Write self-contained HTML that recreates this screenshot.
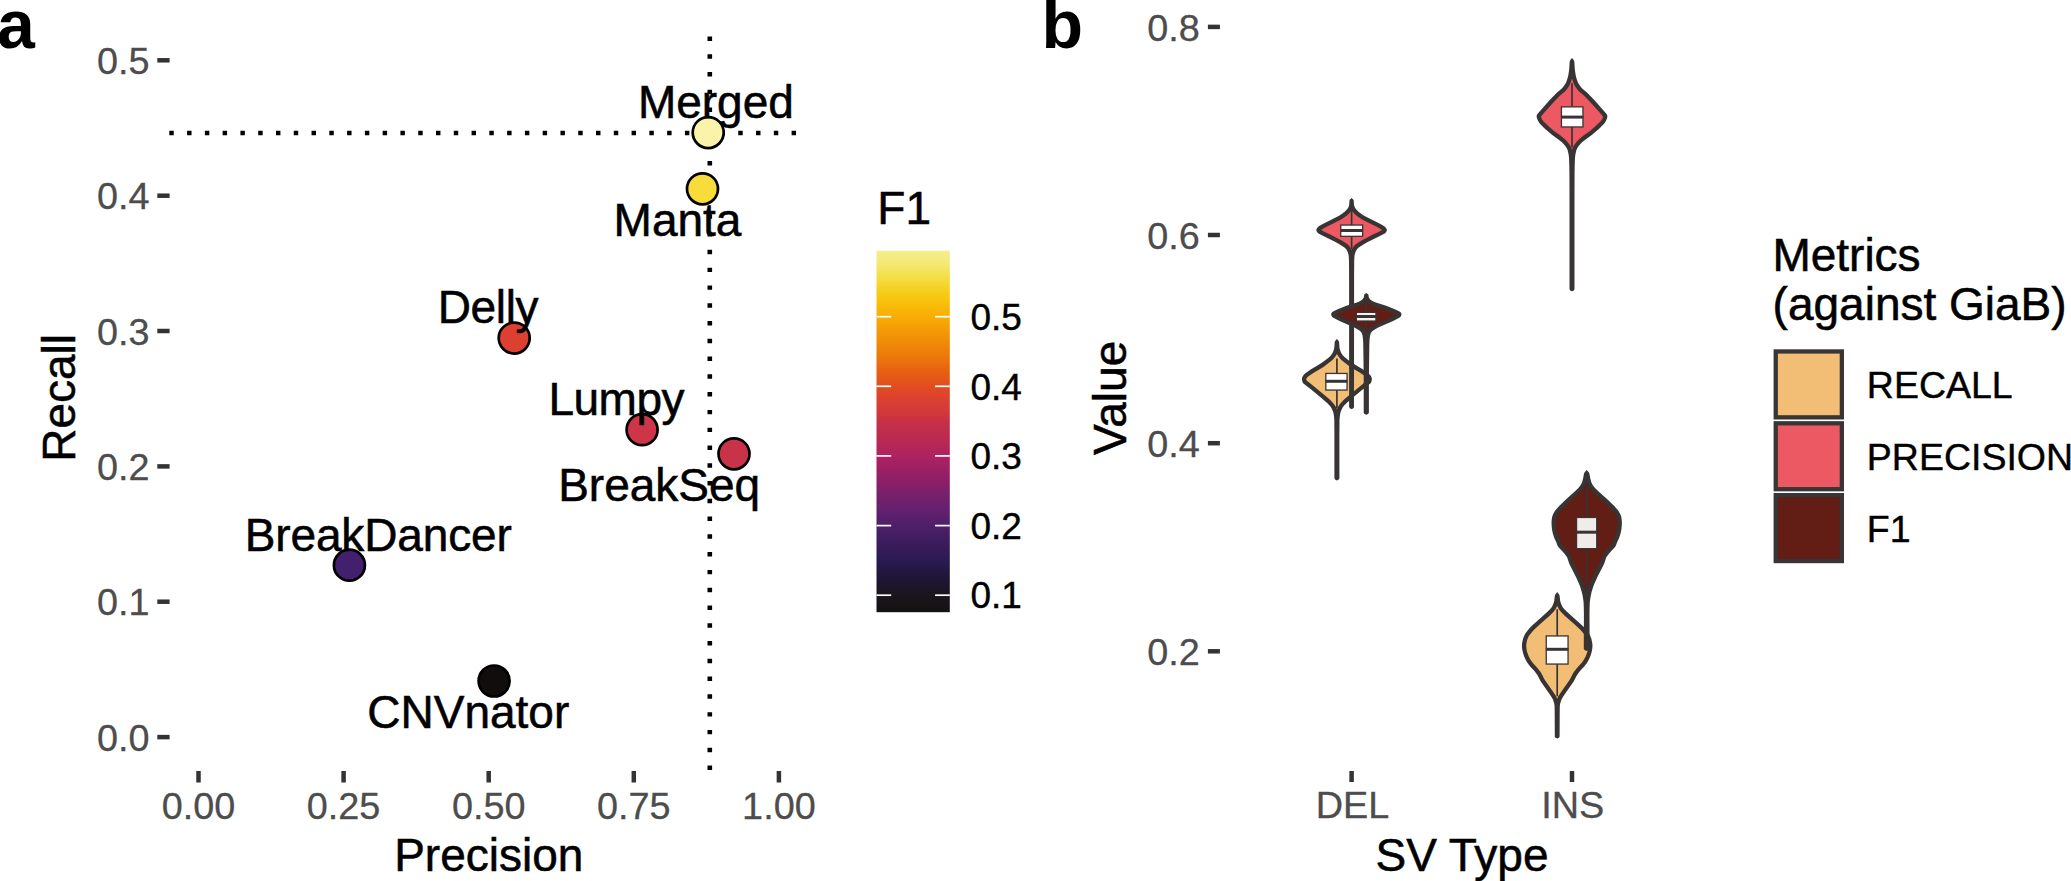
<!DOCTYPE html>
<html lang="en"><head><meta charset="utf-8"><title>Figure</title>
<style>
html,body{margin:0;padding:0;background:#fff;}
body{width:2071px;height:881px;overflow:hidden;}
svg{display:block;font-family:"Liberation Sans", sans-serif;}
.tk{font-size:37.8px;fill:#4d4d4d;stroke:#4d4d4d;stroke-width:0.3px;}
.tt{font-size:46px;fill:#000;stroke:#000;stroke-width:0.55px;}
.lb{font-size:46px;fill:#000;stroke:#000;stroke-width:0.55px;}
.lg{font-size:37.5px;fill:#000;stroke:#000;stroke-width:0.4px;}
.pl{font-size:68px;font-weight:bold;fill:#000;}
</style></head><body>
<svg width="2071" height="881" viewBox="0 0 2071 881">
<rect width="2071" height="881" fill="#ffffff"/>
<g id="panel-a">
<text class="pl" x="-3" y="48.2">a</text>
<line x1="157.3" x2="169.6" y1="737.1" y2="737.1" stroke="#333333" stroke-width="4.5"/>
<text class="tk" x="149.5" y="750.7" text-anchor="end">0.0</text>
<line x1="157.3" x2="169.6" y1="601.7" y2="601.7" stroke="#333333" stroke-width="4.5"/>
<text class="tk" x="149.5" y="615.3" text-anchor="end">0.1</text>
<line x1="157.3" x2="169.6" y1="466.4" y2="466.4" stroke="#333333" stroke-width="4.5"/>
<text class="tk" x="149.5" y="480.0" text-anchor="end">0.2</text>
<line x1="157.3" x2="169.6" y1="331.0" y2="331.0" stroke="#333333" stroke-width="4.5"/>
<text class="tk" x="149.5" y="344.6" text-anchor="end">0.3</text>
<line x1="157.3" x2="169.6" y1="195.7" y2="195.7" stroke="#333333" stroke-width="4.5"/>
<text class="tk" x="149.5" y="209.3" text-anchor="end">0.4</text>
<line x1="157.3" x2="169.6" y1="60.3" y2="60.3" stroke="#333333" stroke-width="4.5"/>
<text class="tk" x="149.5" y="73.9" text-anchor="end">0.5</text>
<line x1="198.5" x2="198.5" y1="771" y2="782.5" stroke="#333333" stroke-width="4.5"/>
<text class="tk" x="198.5" y="818.6" text-anchor="middle">0.00</text>
<line x1="343.6" x2="343.6" y1="771" y2="782.5" stroke="#333333" stroke-width="4.5"/>
<text class="tk" x="343.6" y="818.6" text-anchor="middle">0.25</text>
<line x1="488.7" x2="488.7" y1="771" y2="782.5" stroke="#333333" stroke-width="4.5"/>
<text class="tk" x="488.7" y="818.6" text-anchor="middle">0.50</text>
<line x1="633.8" x2="633.8" y1="771" y2="782.5" stroke="#333333" stroke-width="4.5"/>
<text class="tk" x="633.8" y="818.6" text-anchor="middle">0.75</text>
<line x1="778.9" x2="778.9" y1="771" y2="782.5" stroke="#333333" stroke-width="4.5"/>
<text class="tk" x="778.9" y="818.6" text-anchor="middle">1.00</text>
<text class="tt" x="394.2" y="871">Precision</text>
<text class="tt" transform="translate(75.2,461.8) rotate(-90)">Recall</text>
<line x1="169.3" x2="797" y1="133" y2="133" stroke="#000" stroke-width="4.6" stroke-dasharray="4.45 13.33"/>
<line x1="709.8" x2="709.8" y1="36.5" y2="771" stroke="#000" stroke-width="4.6" stroke-dasharray="4.45 13.33"/>
<circle cx="708.2" cy="132.6" r="15.5" fill="#fcf3ab" stroke="#000" stroke-width="2.7"/>
<circle cx="702.5" cy="188.8" r="15.5" fill="#f8dc3c" stroke="#000" stroke-width="2.7"/>
<circle cx="514.2" cy="338.1" r="15.5" fill="#dd4030" stroke="#000" stroke-width="2.7"/>
<circle cx="642.1" cy="429.7" r="15.5" fill="#cf3548" stroke="#000" stroke-width="2.7"/>
<circle cx="734" cy="453.8" r="15.5" fill="#c8334a" stroke="#000" stroke-width="2.7"/>
<circle cx="349.4" cy="565.2" r="15.5" fill="#43206e" stroke="#000" stroke-width="2.7"/>
<circle cx="494.1" cy="681" r="15.5" fill="#110d0c" stroke="#000" stroke-width="2.7"/>
<text class="lb" x="637.9" y="117.5">Merged</text>
<text class="lb" x="613.6" y="236.3">Manta</text>
<text class="lb" style="letter-spacing:-0.35px" x="437.7" y="322.5">Delly</text>
<text class="lb" style="letter-spacing:-0.5px" x="548.4" y="414.7">Lumpy</text>
<text class="lb" x="558.2" y="501.2">BreakSeq</text>
<text class="lb" style="letter-spacing:-0.15px" x="244.8" y="550.5">BreakDancer</text>
<text class="lb" x="367.3" y="728.4">CNVnator</text>
<defs><linearGradient id="inf" x1="0" y1="0" x2="0" y2="1">
<stop offset="0.0000" stop-color="#f4ee8c"/>
<stop offset="0.0202" stop-color="#f4ec80"/>
<stop offset="0.0407" stop-color="#f3e86e"/>
<stop offset="0.0689" stop-color="#f4e04a"/>
<stop offset="0.0974" stop-color="#f5d42a"/>
<stop offset="0.1256" stop-color="#f6c812"/>
<stop offset="0.1538" stop-color="#f8bc08"/>
<stop offset="0.1820" stop-color="#f9ad05"/>
<stop offset="0.2055" stop-color="#f6a105"/>
<stop offset="0.2479" stop-color="#f08e07"/>
<stop offset="0.2902" stop-color="#ec7a09"/>
<stop offset="0.3328" stop-color="#e76210"/>
<stop offset="0.3746" stop-color="#e34c20"/>
<stop offset="0.4174" stop-color="#da3f33"/>
<stop offset="0.4462" stop-color="#d3383b"/>
<stop offset="0.4752" stop-color="#c62f47"/>
<stop offset="0.5270" stop-color="#b82953"/>
<stop offset="0.5668" stop-color="#ae2260"/>
<stop offset="0.6133" stop-color="#991f66"/>
<stop offset="0.6650" stop-color="#7c206a"/>
<stop offset="0.7170" stop-color="#64206e"/>
<stop offset="0.7604" stop-color="#4e1f68"/>
<stop offset="0.8036" stop-color="#3f1c5e"/>
<stop offset="0.8553" stop-color="#2b1a52"/>
<stop offset="0.8899" stop-color="#221640"/>
<stop offset="0.9245" stop-color="#1d152a"/>
<stop offset="0.9521" stop-color="#1a151e"/>
<stop offset="0.9746" stop-color="#171316"/>
<stop offset="1.0000" stop-color="#151212"/>
</linearGradient></defs>
<rect x="876.5" y="250.7" width="73.3" height="361.5" fill="url(#inf)"/>
<line x1="876.5" x2="891.2" y1="595.2" y2="595.2" stroke="#fff" stroke-width="1.7"/>
<line x1="935.1" x2="949.8" y1="595.2" y2="595.2" stroke="#fff" stroke-width="1.7"/>
<text class="lg" style="font-size:37px" x="970.5" y="608.4">0.1</text>
<line x1="876.5" x2="891.2" y1="525.6" y2="525.6" stroke="#fff" stroke-width="1.7"/>
<line x1="935.1" x2="949.8" y1="525.6" y2="525.6" stroke="#fff" stroke-width="1.7"/>
<text class="lg" style="font-size:37px" x="970.5" y="538.8">0.2</text>
<line x1="876.5" x2="891.2" y1="455.9" y2="455.9" stroke="#fff" stroke-width="1.7"/>
<line x1="935.1" x2="949.8" y1="455.9" y2="455.9" stroke="#fff" stroke-width="1.7"/>
<text class="lg" style="font-size:37px" x="970.5" y="469.1">0.3</text>
<line x1="876.5" x2="891.2" y1="386.3" y2="386.3" stroke="#fff" stroke-width="1.7"/>
<line x1="935.1" x2="949.8" y1="386.3" y2="386.3" stroke="#fff" stroke-width="1.7"/>
<text class="lg" style="font-size:37px" x="970.5" y="399.5">0.4</text>
<line x1="876.5" x2="891.2" y1="316.7" y2="316.7" stroke="#fff" stroke-width="1.7"/>
<line x1="935.1" x2="949.8" y1="316.7" y2="316.7" stroke="#fff" stroke-width="1.7"/>
<text class="lg" style="font-size:37px" x="970.5" y="329.9">0.5</text>
<text class="tt" x="877.3" y="223.8">F1</text>
</g>
<g id="panel-b">
<text class="pl" x="1041.4" y="48.2">b</text>
<line x1="1207.9" x2="1219.9" y1="651.3" y2="651.3" stroke="#333333" stroke-width="4.5"/>
<text class="tk" x="1199.7" y="664.9" text-anchor="end">0.2</text>
<line x1="1207.9" x2="1219.9" y1="443.2" y2="443.2" stroke="#333333" stroke-width="4.5"/>
<text class="tk" x="1199.7" y="456.8" text-anchor="end">0.4</text>
<line x1="1207.9" x2="1219.9" y1="235.0" y2="235.0" stroke="#333333" stroke-width="4.5"/>
<text class="tk" x="1199.7" y="248.6" text-anchor="end">0.6</text>
<line x1="1207.9" x2="1219.9" y1="26.9" y2="26.9" stroke="#333333" stroke-width="4.5"/>
<text class="tk" x="1199.7" y="40.5" text-anchor="end">0.8</text>
<line x1="1351.6" x2="1351.6" y1="771" y2="782" stroke="#333333" stroke-width="4.5"/>
<text class="tk" x="1352.3999999999999" y="818.4" text-anchor="middle">DEL</text>
<line x1="1572" x2="1572" y1="771" y2="782" stroke="#333333" stroke-width="4.5"/>
<text class="tk" x="1572.8" y="818.4" text-anchor="middle">INS</text>
<text class="tt" x="1462" y="871" text-anchor="middle">SV Type</text>
<text class="tt" transform="translate(1126.3,455) rotate(-90)">Value</text>
<path d="M1336.9,338.9L1335.3,340.7L1335.0,341.3L1334.7,341.9L1334.3,347.7L1334.0,349.3L1333.3,351.3L1332.4,353.3L1330.6,355.7L1328.5,357.7L1324.9,360.5L1322.2,362.5L1319.8,364.1L1314.9,366.9L1311.0,369.3L1305.3,373.3L1304.0,374.5L1302.9,376.1L1302.1,377.7L1301.9,378.9L1302.0,380.1L1302.3,381.3L1302.7,382.5L1303.2,383.3L1304.1,384.1L1306.3,385.7L1311.8,390.1L1321.1,397.7L1327.1,402.9L1329.4,405.3L1331.0,407.3L1331.9,408.9L1333.1,411.7L1333.5,413.3L1333.9,415.7L1334.2,418.9L1334.3,421.7L1334.4,436.5L1334.4,478.1L1334.6,478.8L1335.1,479.6L1335.9,480.0L1336.9,480.4L1337.9,480.0L1338.7,479.6L1339.2,478.8L1339.4,478.1L1339.4,436.5L1339.5,421.7L1339.6,418.9L1339.9,415.7L1340.3,413.3L1340.7,411.7L1341.9,408.9L1342.8,407.3L1344.4,405.3L1346.7,402.9L1352.7,397.7L1362.0,390.1L1367.5,385.7L1369.7,384.1L1370.6,383.3L1371.1,382.5L1371.5,381.3L1371.8,380.1L1371.9,378.9L1371.7,377.7L1370.9,376.1L1369.8,374.5L1368.5,373.3L1362.8,369.3L1358.9,366.9L1354.0,364.1L1351.6,362.5L1348.9,360.5L1345.3,357.7L1343.2,355.7L1341.4,353.3L1340.5,351.3L1339.8,349.3L1339.5,347.7L1339.1,341.9L1338.8,341.3L1338.5,340.7Z" fill="#383434"/>
<path d="M1306.2,379.1L1306.6,380.5L1309.5,382.7L1323.8,394.4L1328.6,398.5L1330.5,400.2L1333.0,402.9L1334.6,404.9L1335.6,406.6L1336.9,409.5L1338.2,406.6L1339.2,404.9L1340.8,402.9L1343.3,400.2L1345.2,398.5L1350.0,394.4L1364.3,382.7L1367.2,380.5L1367.6,379.1L1366.5,377.3L1364.9,376.0L1361.6,373.7L1359.2,372.2L1350.3,366.9L1346.8,364.3L1342.6,361.0L1340.9,359.6L1339.6,358.0L1338.1,356.0L1336.9,353.9L1335.7,356.0L1334.2,358.0L1332.9,359.6L1331.2,361.0L1327.0,364.3L1323.5,366.9L1314.6,372.2L1312.2,373.7L1308.9,376.0L1307.3,377.3Z" fill="#f2bd74"/>
<path d="M1557.2,592.1L1555.7,593.9L1555.0,595.1L1554.7,596.5L1554.3,600.5L1553.8,602.5L1552.7,605.3L1552.1,606.5L1551.3,607.7L1550.0,609.3L1547.2,612.1L1537.2,620.9L1531.6,626.1L1529.7,628.1L1528.0,630.1L1526.7,631.7L1525.5,633.3L1524.8,634.5L1523.9,636.5L1522.9,639.3L1522.1,643.3L1521.9,646.1L1522.2,649.3L1522.7,651.7L1523.1,653.3L1523.7,655.3L1524.7,657.7L1525.4,659.3L1526.3,660.9L1527.5,662.9L1529.2,665.3L1530.6,666.9L1534.0,670.5L1537.0,674.5L1538.2,676.5L1540.2,680.5L1541.1,682.1L1549.5,694.1L1552.1,698.1L1553.1,700.1L1553.9,702.5L1554.3,704.1L1554.5,705.3L1554.6,707.3L1554.7,714.1L1554.8,736.3L1554.9,736.9L1555.5,737.7L1556.2,738.1L1557.2,738.5L1558.2,738.1L1558.9,737.7L1559.5,736.9L1559.6,736.3L1559.7,714.1L1559.8,707.3L1559.9,705.3L1560.1,704.1L1560.5,702.5L1561.3,700.1L1562.3,698.1L1564.9,694.1L1573.3,682.1L1574.2,680.5L1576.2,676.5L1577.4,674.5L1580.4,670.5L1583.8,666.9L1585.2,665.3L1586.9,662.9L1588.1,660.9L1589.0,659.3L1589.7,657.7L1590.7,655.3L1591.3,653.3L1591.7,651.7L1592.2,649.3L1592.5,646.1L1592.3,643.3L1591.5,639.3L1590.5,636.5L1589.6,634.5L1588.9,633.3L1587.7,631.7L1586.4,630.1L1584.7,628.1L1582.8,626.1L1577.2,620.9L1567.2,612.1L1564.4,609.3L1563.1,607.7L1562.3,606.5L1561.7,605.3L1560.6,602.5L1560.1,600.5L1559.7,596.5L1559.4,595.1L1558.7,593.9Z" fill="#383434"/>
<path d="M1557.2,605.8L1556.4,607.6L1555.5,609.3L1554.4,610.8L1553.1,612.3L1549.7,615.7L1540.5,623.7L1535.9,628.0L1532.9,631.0L1530.0,634.4L1528.8,636.1L1527.8,638.2L1527.2,639.8L1526.9,641.0L1526.5,643.2L1526.2,644.9L1526.2,646.0L1526.5,649.0L1526.9,651.2L1527.3,652.4L1528.8,656.4L1530.0,658.7L1531.4,660.9L1532.9,663.0L1537.2,667.7L1540.6,672.1L1542.0,674.5L1544.0,678.5L1544.7,679.8L1553.1,691.7L1556.1,696.3L1557.2,698.7L1558.3,696.3L1561.3,691.7L1569.7,679.8L1570.4,678.5L1572.4,674.5L1573.8,672.1L1577.2,667.7L1581.5,663.0L1583.0,660.9L1584.4,658.7L1585.6,656.4L1587.1,652.4L1587.5,651.2L1587.9,649.0L1588.2,646.0L1588.2,644.9L1587.9,643.2L1587.5,641.0L1587.2,639.8L1586.6,638.2L1585.6,636.1L1584.4,634.4L1581.5,631.0L1578.5,628.0L1573.9,623.7L1564.7,615.7L1561.3,612.3L1560.0,610.8L1558.9,609.3L1558.0,607.6Z" fill="#f2bd74"/>
<path d="M1351.6,198.1L1350.0,199.5L1349.5,200.2L1349.2,204.9L1348.9,206.1L1348.2,207.7L1347.7,208.5L1347.1,209.3L1344.7,211.7L1341.7,214.1L1339.1,215.7L1332.2,219.3L1323.2,223.7L1319.7,225.7L1318.6,226.5L1317.7,227.3L1316.6,228.9L1316.3,229.7L1316.3,230.1L1316.5,230.9L1317.4,232.5L1317.8,232.9L1318.9,233.7L1323.3,236.1L1328.4,238.5L1335.5,242.1L1339.8,244.5L1343.7,246.9L1344.8,247.7L1346.0,248.9L1347.0,250.5L1347.9,252.5L1348.6,254.9L1348.8,256.9L1349.0,261.3L1349.1,276.9L1349.1,406.7L1349.3,407.5L1349.9,408.3L1350.6,408.7L1351.6,409.1L1352.6,408.7L1353.3,408.3L1353.9,407.5L1354.0,406.7L1354.1,276.9L1354.2,261.3L1354.4,256.9L1354.6,254.9L1355.3,252.5L1356.2,250.5L1357.2,248.9L1358.4,247.7L1359.5,246.9L1363.4,244.5L1367.7,242.1L1374.8,238.5L1379.9,236.1L1384.3,233.7L1385.4,232.9L1385.8,232.5L1386.7,230.9L1386.9,230.1L1386.9,229.7L1386.6,228.9L1385.5,227.3L1384.6,226.5L1383.5,225.7L1380.0,223.7L1371.0,219.3L1364.1,215.7L1361.5,214.1L1358.5,211.7L1356.1,209.3L1355.5,208.5L1355.0,207.7L1354.3,206.1L1354.0,204.9L1353.7,200.2L1353.2,199.5Z" fill="#383434"/>
<path d="M1321.1,229.9L1325.2,232.2L1330.3,234.6L1336.8,237.9L1341.3,240.3L1346.0,243.3L1348.1,244.8L1349.3,246.1L1350.5,247.9L1351.6,250.1L1352.7,247.9L1353.9,246.1L1355.1,244.8L1357.2,243.3L1361.9,240.3L1366.4,237.9L1372.9,234.6L1378.0,232.2L1382.1,229.9L1380.6,228.9L1378.1,227.5L1367.5,222.3L1362.1,219.4L1359.8,218.1L1357.3,216.3L1355.1,214.4L1352.9,212.1L1351.6,210.4L1350.3,212.1L1348.1,214.4L1345.9,216.3L1343.4,218.1L1341.1,219.4L1335.7,222.3L1325.1,227.5L1322.6,228.9Z" fill="#ec5962"/>
<path d="M1572.0,58.1L1570.3,60.1L1570.0,60.7L1569.7,61.3L1569.2,69.3L1568.8,72.1L1568.3,75.3L1567.7,77.7L1567.0,80.1L1566.1,82.5L1565.2,84.1L1563.9,86.1L1562.3,88.1L1561.0,89.3L1557.6,92.1L1556.3,93.3L1552.6,96.9L1549.3,100.5L1537.6,113.7L1536.9,114.9L1536.6,115.7L1536.6,116.1L1536.8,117.7L1537.5,119.7L1538.7,122.1L1539.9,123.7L1545.1,128.9L1548.7,132.1L1551.6,134.5L1557.7,138.9L1561.7,142.1L1563.4,143.7L1565.7,146.5L1566.9,148.5L1567.6,150.1L1568.3,152.9L1568.8,155.7L1569.0,158.1L1569.3,164.9L1569.4,172.1L1569.5,196.9L1569.5,288.9L1569.7,289.7L1570.3,290.5L1571.0,290.9L1572.0,291.3L1573.0,290.9L1573.7,290.5L1574.3,289.7L1574.5,288.9L1574.5,196.9L1574.6,172.1L1574.7,164.9L1575.0,158.1L1575.2,155.7L1575.7,152.9L1576.4,150.1L1577.1,148.5L1578.3,146.5L1580.6,143.7L1582.3,142.1L1586.3,138.9L1592.4,134.5L1595.3,132.1L1598.9,128.9L1604.1,123.7L1605.3,122.1L1606.5,119.7L1607.2,117.7L1607.4,116.1L1607.4,115.7L1607.1,114.9L1606.4,113.7L1594.7,100.5L1591.4,96.9L1587.7,93.3L1586.4,92.1L1583.0,89.3L1581.7,88.1L1580.1,86.1L1578.8,84.1L1577.9,82.5L1577.0,80.1L1576.3,77.7L1575.7,75.3L1575.2,72.1L1574.8,69.3L1574.3,61.3L1574.0,60.7L1573.7,60.1Z" fill="#383434"/>
<path d="M1541.0,116.5L1541.6,118.4L1542.3,119.7L1542.6,120.3L1544.1,121.9L1548.1,125.8L1550.6,128.1L1553.7,130.7L1559.8,135.1L1563.5,138.0L1565.5,139.7L1566.9,141.2L1569.1,143.9L1570.4,145.9L1571.3,147.8L1572.0,149.9L1572.7,147.8L1573.6,145.9L1574.9,143.9L1577.1,141.2L1578.5,139.7L1580.5,138.0L1584.2,135.1L1590.3,130.7L1593.4,128.1L1595.9,125.8L1599.9,121.9L1601.4,120.3L1601.7,119.7L1602.4,118.4L1603.0,116.5L1600.9,114.1L1598.3,111.0L1589.0,100.7L1584.4,96.0L1579.7,92.1L1577.7,90.1L1575.7,87.3L1574.2,84.7L1573.1,81.9L1572.0,78.4L1570.9,81.9L1569.8,84.7L1568.3,87.3L1566.3,90.1L1564.3,92.1L1559.6,96.0L1555.0,100.7L1545.7,111.0L1543.1,114.1Z" fill="#ec5962"/>
<path d="M1366.3,292.9L1365.2,293.7L1364.4,294.5L1364.1,295.1L1363.9,296.9L1363.6,297.7L1363.1,298.5L1362.1,299.7L1361.0,300.5L1358.8,301.7L1356.8,302.5L1346.4,305.7L1343.3,306.9L1336.6,309.7L1333.6,311.3L1332.4,312.1L1331.9,312.5L1331.6,312.9L1331.2,313.7L1331.1,314.5L1331.5,315.7L1332.2,316.9L1332.6,317.3L1333.8,318.1L1339.5,320.9L1353.9,327.3L1357.0,328.9L1359.4,330.5L1360.8,331.7L1361.4,332.5L1362.1,334.1L1362.6,336.1L1363.0,339.3L1363.2,342.5L1363.3,347.7L1363.7,376.1L1363.7,412.3L1363.9,413.1L1364.4,413.9L1365.2,414.3L1366.3,414.7L1367.4,414.3L1368.2,413.9L1368.7,413.1L1368.9,412.3L1368.9,376.1L1369.3,347.7L1369.4,342.5L1369.6,339.3L1370.0,336.1L1370.5,334.1L1371.2,332.5L1371.8,331.7L1373.2,330.5L1375.6,328.9L1378.7,327.3L1393.1,320.9L1398.8,318.1L1400.0,317.3L1400.4,316.9L1401.1,315.7L1401.5,314.5L1401.4,313.7L1401.0,312.9L1400.7,312.5L1400.2,312.1L1399.0,311.3L1396.0,309.7L1389.3,306.9L1386.2,305.7L1375.8,302.5L1373.8,301.7L1371.6,300.5L1370.5,299.7L1369.5,298.5L1369.0,297.7L1368.7,296.9L1368.5,295.1L1368.2,294.5L1367.4,293.7Z" fill="#383434"/>
<path d="M1336.4,314.6L1341.3,317.0L1355.7,323.4L1359.3,325.3L1362.5,327.4L1364.0,328.8L1364.8,329.7L1365.3,330.7L1366.3,333.1L1367.3,330.7L1367.8,329.7L1368.6,328.8L1370.1,327.4L1373.3,325.3L1376.9,323.4L1391.3,317.0L1396.2,314.6L1393.4,313.3L1385.8,310.1L1383.7,309.4L1375.7,307.0L1372.9,306.0L1370.3,304.7L1368.5,303.7L1367.3,302.6L1366.3,301.4L1365.3,302.6L1364.1,303.7L1362.3,304.7L1359.7,306.0L1356.9,307.0L1348.9,309.4L1346.8,310.1L1339.2,313.3Z" fill="#621d14"/>
<path d="M1586.7,470.1L1585.1,471.7L1584.2,472.9L1583.9,474.1L1583.1,478.5L1582.4,481.3L1581.7,483.3L1580.5,485.3L1579.0,487.3L1577.9,488.5L1573.7,492.5L1565.3,500.1L1562.3,502.9L1559.1,506.1L1555.6,510.1L1554.7,511.3L1554.0,512.5L1553.2,514.1L1552.5,515.7L1552.1,516.9L1551.8,518.9L1551.5,522.1L1551.6,524.9L1551.9,528.5L1552.3,530.9L1552.9,533.7L1554.2,537.7L1556.4,542.5L1557.4,545.3L1558.0,546.5L1558.6,547.3L1562.1,550.9L1564.5,553.7L1566.0,555.7L1567.1,557.3L1567.7,558.9L1569.0,562.9L1569.6,564.5L1576.0,576.9L1578.7,582.9L1580.1,586.5L1581.8,592.1L1582.5,594.9L1583.3,600.1L1583.6,602.5L1583.8,607.3L1583.9,614.1L1583.8,648.7L1584.0,649.3L1584.6,650.1L1585.5,650.5L1586.7,650.9L1587.9,650.5L1588.8,650.1L1589.4,649.3L1589.6,648.7L1589.5,614.1L1589.6,607.3L1589.8,602.5L1590.1,600.1L1590.9,594.9L1591.6,592.1L1593.3,586.5L1594.7,582.9L1597.4,576.9L1603.8,564.5L1604.4,562.9L1605.7,558.9L1606.3,557.3L1607.4,555.7L1608.9,553.7L1611.3,550.9L1614.8,547.3L1615.4,546.5L1616.0,545.3L1617.0,542.5L1619.2,537.7L1620.5,533.7L1621.1,530.9L1621.5,528.5L1621.8,524.9L1621.9,522.1L1621.6,518.9L1621.3,516.9L1620.9,515.7L1620.2,514.1L1619.4,512.5L1618.7,511.3L1617.8,510.1L1614.3,506.1L1611.1,502.9L1608.1,500.1L1599.7,492.5L1595.5,488.5L1594.4,487.3L1592.9,485.3L1591.7,483.3L1591.0,481.3L1590.3,478.5L1589.5,474.1L1589.2,472.9L1588.3,471.7Z" fill="#383434"/>
<path d="M1586.7,482.0L1586.0,484.1L1585.0,486.2L1583.4,488.6L1581.9,490.6L1580.5,492.0L1577.0,495.2L1568.6,502.9L1564.9,506.4L1561.9,509.4L1558.7,513.1L1557.4,515.3L1556.5,517.4L1556.0,519.9L1555.8,522.1L1555.9,524.6L1556.2,528.0L1556.5,530.1L1557.1,532.6L1558.2,536.2L1560.3,540.8L1561.3,543.6L1561.6,544.1L1562.1,544.8L1565.2,548.0L1568.4,551.8L1569.8,553.6L1570.9,555.4L1571.8,557.5L1572.9,561.2L1573.6,562.7L1579.8,575.0L1583.0,582.1L1584.1,585.1L1585.4,588.8L1586.1,591.4L1586.7,594.1L1587.3,591.4L1588.0,588.8L1589.3,585.1L1590.4,582.1L1593.6,575.0L1599.8,562.7L1600.5,561.2L1601.6,557.5L1602.5,555.4L1603.6,553.6L1605.0,551.8L1608.2,548.0L1611.3,544.8L1611.8,544.1L1612.1,543.6L1613.1,540.8L1615.2,536.2L1616.3,532.6L1616.9,530.1L1617.2,528.0L1617.5,524.6L1617.6,522.1L1617.4,519.9L1616.9,517.4L1616.0,515.3L1614.7,513.1L1611.5,509.4L1608.5,506.4L1604.8,502.9L1596.4,495.2L1592.9,492.0L1591.5,490.6L1590.0,488.6L1588.4,486.2L1587.4,484.1Z" fill="#621d14"/>
<line x1="1336.9" x2="1336.9" y1="358.5" y2="408.6" stroke="#383434" stroke-width="1.7"/>
<rect x="1325.85" y="373.45" width="21.20" height="16.60" fill="#ffffff" stroke="#383434" stroke-width="1.3"/>
<line x1="1325.5" x2="1347.4" y1="381.3" y2="381.3" stroke="#383434" stroke-width="3"/>
<line x1="1557.2" x2="1557.2" y1="609.2" y2="696.3" stroke="#383434" stroke-width="1.7"/>
<rect x="1546.25" y="635.95" width="21.80" height="28.10" fill="#ffffff" stroke="#383434" stroke-width="1.3"/>
<line x1="1545.9" x2="1568.4" y1="649.3" y2="649.3" stroke="#383434" stroke-width="3"/>
<line x1="1351.6" x2="1351.6" y1="210" y2="249" stroke="#383434" stroke-width="1.7"/>
<rect x="1340.75" y="225.05" width="21.90" height="11.30" fill="#ffffff" stroke="#383434" stroke-width="1.3"/>
<line x1="1340.4" x2="1363.0" y1="230.5" y2="230.5" stroke="#383434" stroke-width="3"/>
<line x1="1572" x2="1572" y1="83.3" y2="147.4" stroke="#383434" stroke-width="1.7"/>
<rect x="1561.45" y="106.85" width="21.50" height="20.10" fill="#ffffff" stroke="#383434" stroke-width="1.3"/>
<line x1="1561.1" x2="1583.3" y1="117.1" y2="117.1" stroke="#383434" stroke-width="3"/>
<line x1="1366.3" x2="1366.3" y1="301" y2="332" stroke="#383434" stroke-width="1.7"/>
<rect x="1356.35" y="312.35" width="19.60" height="8.70" fill="#f6f0ef" stroke="#383434" stroke-width="1.3"/>
<line x1="1356.0" x2="1376.3" y1="316.5" y2="316.5" stroke="#383434" stroke-width="3"/>
<line x1="1586.7" x2="1586.7" y1="486" y2="598" stroke="#383434" stroke-width="1.7"/>
<rect x="1576.55" y="517.45" width="20.20" height="31.20" fill="#f1ebea" stroke="#383434" stroke-width="1.3"/>
<line x1="1576.2" x2="1597.1" y1="532.2" y2="532.2" stroke="#383434" stroke-width="3"/>
<text class="tt" x="1772.4" y="271.1">Metrics</text>
<text class="tt" x="1772.6" y="319.9">(against GiaB)</text>
<rect x="1775.75" y="351.45" width="66.1" height="65.9" fill="#f2bd74" stroke="#393534" stroke-width="4.3"/>
<text class="lg" x="1866.8" y="398.0">RECALL</text>
<rect x="1775.75" y="423.30" width="66.1" height="65.9" fill="#ec5962" stroke="#393534" stroke-width="4.3"/>
<text class="lg" x="1866.8" y="469.9">PRECISION</text>
<rect x="1775.75" y="495.15" width="66.1" height="65.9" fill="#621d14" stroke="#393534" stroke-width="4.3"/>
<text class="lg" x="1866.8" y="541.8">F1</text>
</g>
</svg></body></html>
